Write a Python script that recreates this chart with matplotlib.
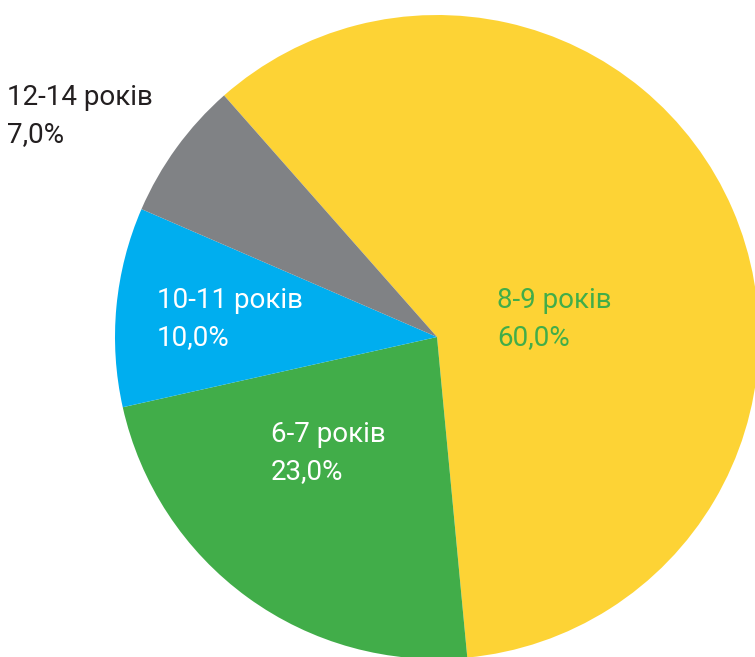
import matplotlib
matplotlib.use("Agg")
import matplotlib.pyplot as plt

categories = ["8-9 років", "6-7 років", "10-11 років", "12-14 років"]
values = [60.0, 23.0, 10.0, 7.0]
colors = ["#FDD335", "#41AD49", "#00AEEF", "#808285"]
label_colors = ["#41AD49", "white", "white", "#231F20"]
label_pos = [(497, 308), (271, 442), (157, 308), (7, 105)]

plt.rcParams['font.family'] = ['Roboto', 'DejaVu Sans']

fig = plt.figure(figsize=(7.55, 6.57), dpi=100)
ax = fig.add_axes([0, 0, 1, 1])
ax.pie(values, colors=colors, startangle=131.4, counterclock=False,
       center=(437, -337), radius=322, frame=True)
ax.set_xlim(0, 755)
ax.set_ylim(-657, 0)
ax.set_aspect('equal')
ax.axis('off')

for cat, v, c, (x, y) in zip(categories, values, label_colors, label_pos):
    pct = f"{v:.1f}%".replace('.', ',')
    ax.text(x, -y, cat, color=c, fontsize=20, ha='left', va='baseline')
    ax.text(x, -(y + 37), pct, color=c, fontsize=20, ha='left', va='baseline')

fig.savefig("out.png", dpi=100)
